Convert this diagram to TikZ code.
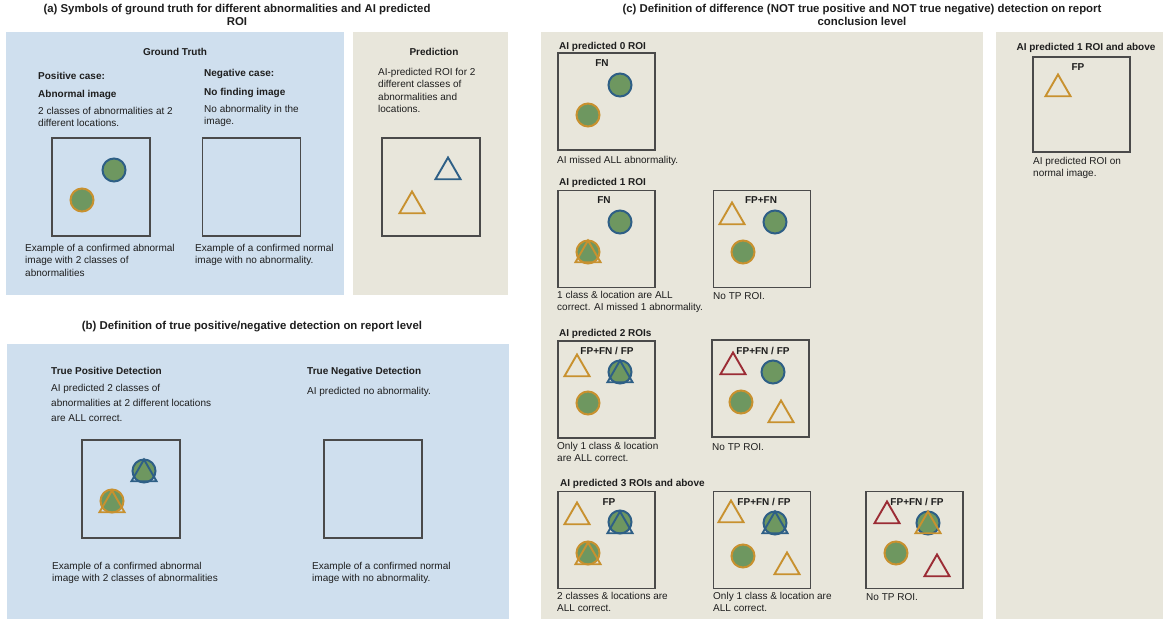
\documentclass[tikz,border=0pt]{standalone}
\usepackage{fontspec}
\setmainfont{Liberation Sans}
\usetikzlibrary{shapes.geometric}
\definecolor{bluebg}{HTML}{CFDFEE}
\definecolor{beigebg}{HTML}{E8E6DB}
\definecolor{greenc}{HTML}{6E9760}
\definecolor{bluec}{HTML}{2E5F86}
\definecolor{orangec}{HTML}{C8912F}
\definecolor{redc}{HTML}{9B2C35}
\definecolor{boxc}{HTML}{4A4A4A}
\definecolor{textc}{HTML}{1E1E1E}
\tikzset{
  txt/.style={font=\fontsize{10}{12.3}\selectfont, inner sep=0pt, anchor=north west, align=left, text=textc, execute at begin node=\strut},
  txtw/.style={font=\fontsize{10}{15}\selectfont, inner sep=0pt, anchor=north west, align=left, text=textc, execute at begin node=\strut},
  hd/.style={font=\fontsize{10}{12.3}\selectfont\bfseries, inner sep=0pt, anchor=north west, align=left, text=textc, execute at begin node=\strut},
  hdc/.style={hd, anchor=north, align=center},
  ttl/.style={font=\fontsize{11.4}{13}\selectfont\bfseries, inner sep=0pt, anchor=north, align=center, text=textc, execute at begin node=\strut},
  imgbox/.style={draw=boxc, line width=1.3pt, minimum width=97pt, minimum height=97pt, inner sep=0pt},
  gtc/.style={circle, fill=greenc, draw=#1, line width=2pt, minimum size=23pt, inner sep=0pt},
  roi/.style={regular polygon, regular polygon sides=3, minimum size=29pt, inner sep=0pt, draw=#1, line width=1.9pt},
}
\begin{document}
\begin{tikzpicture}[x=1pt,y=-1pt]
\useasboundingbox (0,0) rectangle (1167,620);
% panel backgrounds
\fill[bluebg] (6,32) rectangle (344,295);
\fill[beigebg] (353,32) rectangle (508,295);
\fill[bluebg] (7,344) rectangle (509,619);
\fill[beigebg] (541,32) rectangle (983,619);
\fill[beigebg] (996,32) rectangle (1163,619);

% ---------------- panel (a)
\node[ttl] (ta) at (237,4) {(a) Symbols of ground truth for different abnormalities and AI predicted\\ROI};
\node[hdc] (gt) at (175,47) {Ground Truth};
\node[hdc] (pr) at (434,47) {Prediction};
\node[hd] (pc) at (38,71) {Positive case:};
\node[hd] (ai) at (38,89) {Abnormal image};
\node[txt] (pcd) at (38,107) {2 classes of abnormalities at 2\\different locations.};
\node[hd] (nc) at (204,68) {Negative case:};
\node[hd] (nf) at (204,87) {No finding image};
\node[txt] (ncd) at (204,105) {No abnormality in the\\image.};
\node[txt] (prd) at (378,68) {AI-predicted ROI for 2\\different classes of\\abnormalities and\\locations.};

\node[imgbox, minimum width=98pt, minimum height=98pt] (bpos) at (101,187) {};
\node[imgbox, minimum width=98pt, minimum height=98pt] (bneg) at (251.5,187) {};
\node[imgbox, minimum width=98pt, minimum height=98pt] (bpred) at (431,187) {};
\node[gtc=bluec] (a1) at (114,170) {};
\node[gtc=orangec] (a2) at (82,200) {};
\node[roi=bluec] (a3) at (448,172) {};
\node[roi=orangec] (a4) at (412,206) {};

\node[txt] (capa1) at (25,244) {Example of a confirmed abnormal\\image with 2 classes of\\abnormalities};
\node[txt] (capa2) at (195,244) {Example of a confirmed normal\\image with no abnormality.};

% ---------------- panel (b)
\node[ttl] (tb) at (252,320) {(b) Definition of true positive/negative detection on report level};
\node[hd] (tpd) at (51,366) {True Positive Detection};
\node[txtw] (tpdd) at (51,384) {AI predicted 2 classes of\\abnormalities at 2 different locations\\are ALL correct.};
\node[hd] (tnd) at (307,366) {True Negative Detection};
\node[txtw] (tndd) at (307,384) {AI predicted no abnormality.};
\node[imgbox, minimum width=98pt, minimum height=98pt] (btp) at (131,489) {};
\node[imgbox, minimum width=98pt, minimum height=98pt] (btn) at (373,489) {};
\node[gtc=bluec] (b1) at (144,471) {};
\node[roi=bluec] (b2) at (144,474) {};
\node[gtc=orangec] (b3) at (112,501) {};
\node[roi=orangec] (b4) at (112,505) {};
\node[txt] (capb1) at (52,562) {Example of a confirmed abnormal\\image with 2 classes of abnormalities};
\node[txt] (capb2) at (312,562) {Example of a confirmed normal\\image with no abnormality.};

% ---------------- panel (c)
\node[ttl] (tc) at (862,4) {(c) Definition of difference (NOT true positive and NOT true negative) detection on report\\conclusion level};

% 0 ROI
\node[hd] (h0) at (559,41) {AI predicted 0 ROI};
\node[imgbox] (c0) at (606.5,101.5) {};
\node[hdc] (l0) at (602,58) {FN};
\node[gtc=bluec] (c0a) at (620,85) {};
\node[gtc=orangec] (c0b) at (588,115) {};
\node[txt] (k0) at (557,155) {AI missed ALL abnormality.};

% 1 ROI
\node[hd] (h1) at (559,177) {AI predicted 1 ROI};
\node[imgbox] (c1a) at (606.5,239) {};
\node[hdc] (l1a) at (604,195) {FN};
\node[gtc=bluec] (c1a1) at (620,222) {};
\node[gtc=orangec] (c1a2) at (588,252) {};
\node[roi=orangec] (c1a3) at (588,255) {};
\node[txt] (k1a) at (557,291) {1 class \& location are ALL\\correct. AI missed 1 abnormality.};

\node[imgbox] (c1b) at (762,239) {};
\node[hdc] (l1b) at (761,195) {FP+FN};
\node[roi=orangec] (c1b1) at (732,217) {};
\node[gtc=bluec] (c1b2) at (775,222) {};
\node[gtc=orangec] (c1b3) at (743,252) {};
\node[txt] (k1b) at (713,291) {No TP ROI.};

% 2 ROIs
\node[hd] (h2) at (559,328) {AI predicted 2 ROIs};
\node[imgbox] (c2a) at (606.5,389.5) {};
\node[roi=orangec] (c2a1) at (577,369) {};
\node[gtc=bluec] (c2a2) at (620,372) {};
\node[roi=bluec] (c2a3) at (620,375) {};
\node[gtc=orangec] (c2a4) at (588,403) {};
\node[hdc] (l2a) at (607,346) {FP+FN / FP};
\node[txt] (k2a) at (557,442) {Only 1 class \& location\\are ALL correct.};

\node[imgbox] (c2b) at (760.5,388.5) {};
\node[roi=redc] (c2b1) at (733,367) {};
\node[gtc=bluec] (c2b2) at (773,372) {};
\node[gtc=orangec] (c2b3) at (741,402) {};
\node[roi=orangec] (c2b4) at (781,415) {};
\node[hdc] (l2b) at (763,346) {FP+FN / FP};
\node[txt] (k2b) at (712,442) {No TP ROI.};

% 3 ROIs
\node[hd] (h3) at (560,478) {AI predicted 3 ROIs and above};
\node[imgbox] (c3a) at (606.5,540) {};
\node[roi=orangec] (c3a1) at (577,517) {};
\node[gtc=bluec] (c3a2) at (620,522) {};
\node[roi=bluec] (c3a3) at (620,526) {};
\node[gtc=orangec] (c3a4) at (588,553) {};
\node[roi=orangec] (c3a5) at (588,557) {};
\node[hdc] (l3a) at (609,497) {FP};
\node[txt] (k3a) at (557,592) {2 classes \& locations are\\ALL correct.};

\node[imgbox] (c3b) at (762,540) {};
\node[roi=orangec] (c3b1) at (731,515) {};
\node[gtc=bluec] (c3b2) at (775,523) {};
\node[roi=bluec] (c3b3) at (775,526) {};
\node[gtc=orangec] (c3b4) at (743,556) {};
\node[roi=orangec] (c3b5) at (787,567) {};
\node[hdc] (l3b) at (764,497) {FP+FN / FP};
\node[txt] (k3b) at (713,592) {Only 1 class \& location are\\ALL correct.};

\node[imgbox] (c3c) at (914.5,540) {};
\node[roi=redc] (c3c1) at (887,516) {};
\node[gtc=bluec] (c3c2) at (928,523) {};
\node[roi=orangec] (c3c3) at (928,526) {};
\node[gtc=orangec] (c3c4) at (896,553) {};
\node[roi=redc] (c3c5) at (937,569) {};
\node[hdc] (l3c) at (917,497) {FP+FN / FP};
\node[txt] (k3c) at (866,592) {No TP ROI.};

% right panel
\node[hdc] (hr) at (1086,42) {AI predicted 1 ROI and above};
\node[imgbox, minimum height=95pt] (cr) at (1081.5,104.5) {};
\node[hdc] (lr) at (1078,62) {FP};
\node[roi=orangec] (cr1) at (1058,89) {};
\node[txt] (kr) at (1033,157) {AI predicted ROI on\\normal image.};
\end{tikzpicture}
\end{document}
